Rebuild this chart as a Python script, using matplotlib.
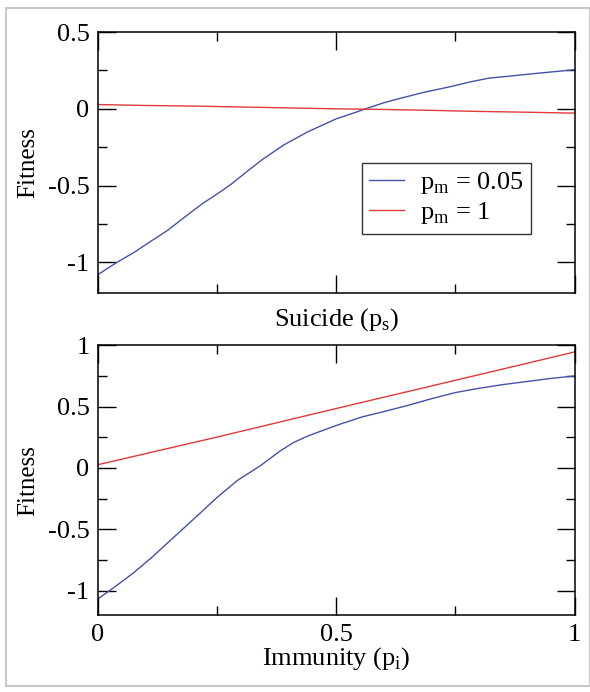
import numpy as np
import matplotlib
matplotlib.use("Agg")
import matplotlib.pyplot as plt
from matplotlib.ticker import FixedLocator
from matplotlib.patches import Rectangle

plt.rcParams["font.family"] = ["Liberation Serif", "DejaVu Serif"]
plt.rcParams["mathtext.fontset"] = "custom"
plt.rcParams["mathtext.rm"] = "Liberation Serif"
plt.rcParams["axes.unicode_minus"] = False

# suicide panel
ps_blue = [0.0, 0.04, 0.076, 0.11, 0.147, 0.18, 0.218, 0.25, 0.28, 0.31, 0.345, 0.39, 0.44, 0.5,
           0.543, 0.566, 0.6, 0.63, 0.68, 0.74, 0.78, 0.82, 0.86, 0.9, 0.95, 1.0]
fit_s_blue = [-1.08, -1.0, -0.935, -0.865, -0.79, -0.71, -0.62, -0.555, -0.49, -0.415, -0.33, -0.235,
              -0.15, -0.065, -0.02, 0.005, 0.04, 0.065, 0.105, 0.145, 0.175, 0.2, 0.212, 0.225, 0.24, 0.255]
ps_red = [0.0, 0.1, 0.2, 0.3, 0.4, 0.5, 0.6, 0.7, 0.8, 0.9, 1.0]
fit_s_red = [0.028, 0.022, 0.018, 0.012, 0.006, 0.0, -0.004, -0.01, -0.017, -0.022, -0.028]

# immunity panel
pi_blue = [0.0, 0.034, 0.076, 0.117, 0.159, 0.201, 0.25, 0.292, 0.341, 0.383, 0.411, 0.44, 0.464,
           0.485, 0.51, 0.555, 0.6, 0.65, 0.7, 0.75, 0.8, 0.85, 0.9, 0.95, 1.0]
fit_i_blue = [-1.068, -0.973, -0.851, -0.715, -0.565, -0.416, -0.24, -0.103, 0.019, 0.141, 0.209,
              0.26, 0.295, 0.325, 0.36, 0.417, 0.46, 0.51, 0.565, 0.615, 0.65, 0.68, 0.705, 0.73, 0.75]
pi_red = [0.0, 0.25, 0.5, 0.75, 1.0]
fit_i_red = [0.027, 0.252, 0.485, 0.715, 0.946]

blue = "#4253a8"
red = "#e03a3a"
fs = 19

fig = plt.figure(figsize=(5.9, 6.92), dpi=100)
fig.patches.append(Rectangle((0.010, 0.009), 0.99, 0.979, transform=fig.transFigure,
                             fill=False, edgecolor="#c8c8c8", linewidth=1.5))

ax1 = fig.add_axes([0.166, 0.5766, 0.808, 0.377])
ax2 = fig.add_axes([0.166, 0.111, 0.808, 0.390])

ax1.plot(ps_blue, fit_s_blue, color=blue, lw=1.0, label=r"p$_\mathregular{m}$ = 0.05")
ax1.plot(ps_red, fit_s_red, color=red, lw=1.0, label=r"p$_\mathregular{m}$ = 1")
ax2.plot(pi_blue, fit_i_blue, color=blue, lw=1.0)
ax2.plot(pi_red, fit_i_red, color=red, lw=1.0)

for ax in (ax1, ax2):
    ax.set_xlim(0, 1)
    ax.set_ylim(-1.2, 0.5 if ax is ax1 else 1.0)
    ax.xaxis.set_major_locator(FixedLocator([0, 0.5, 1]))
    ax.xaxis.set_minor_locator(FixedLocator([0.25, 0.75]))
    yt = [-1, -0.5, 0, 0.5] + ([1] if ax is ax2 else [])
    ax.yaxis.set_major_locator(FixedLocator(yt))
    ax.yaxis.set_minor_locator(FixedLocator([-0.75, -0.25, 0.25, 0.75]))
    ax.set_yticklabels(["-1", "-0.5", "0", "0.5", "1"][:len(yt)])
    ax.tick_params(which="both", direction="in", top=True, right=True, labelsize=fs, width=1.0)
    ax.tick_params(which="major", length=13, pad=6)
    ax.tick_params(which="minor", length=6.5)
    for s in ax.spines.values():
        s.set_linewidth(1.1)
    ax.set_ylabel("Fitness", fontsize=18, labelpad=6)

ax1.tick_params(labelbottom=False)
ax1.set_xlabel(r"Suicide (p$_\mathregular{s}$)", fontsize=fs, labelpad=6)
ax2.set_xticklabels(["0", "0.5", "1"])
ax2.set_xlabel(r"Immunity (p$_\mathregular{i}$)", fontsize=fs, labelpad=0)

leg = ax1.legend(loc="upper left", bbox_to_anchor=(0.553, 0.50), fontsize=fs, frameon=True,
                 fancybox=False, edgecolor="black", handlelength=1.3, handletextpad=0.6,
                 borderpad=0.3, labelspacing=0.15, borderaxespad=0)
leg.get_frame().set_linewidth(1.0)

fig.savefig("out.png", dpi=100)
